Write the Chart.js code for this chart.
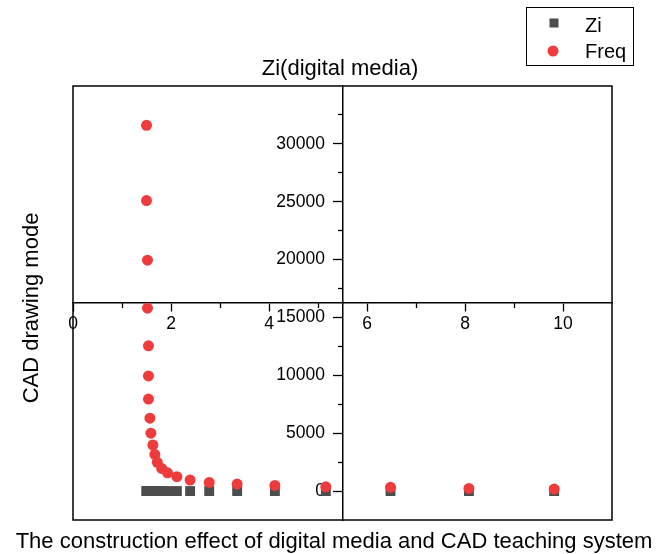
<!DOCTYPE html>
<html>
<head>
<meta charset="utf-8">
<script src="https://cdn.jsdelivr.net/npm/chart.js@4"></script>
<style>
  body { margin: 0; background: #fff; }
  #wrap { width: 666px; height: 554px; }
</style>
</head>
<body>
<div id="wrap"><canvas id="ziChart"></canvas></div>
<script>
// 数据
const xValues = [1.50, 1.50, 1.52, 1.52, 1.54, 1.54, 1.54, 1.57, 1.59, 1.63, 1.67, 1.72, 1.81, 1.93, 2.12, 2.39, 2.78, 3.35, 4.12, 5.16, 6.48, 8.08, 9.82];
const freqValues = [31600, 25100, 19950, 15800, 12550, 9950, 7950, 6300, 5000, 3980, 3170, 2480, 1960, 1580, 1240, 950, 750, 600, 490, 370, 320, 230, 170];
const ziValues = [0, 0, 0, 0, 0, 0, 0, 0, 0, 0, 0, 0, 0, 0, 0, 0, 0, 0, 0, 0, 0, 0, 0];

// 刻度
const xTicks = [0, 2, 4, 6, 8, 10];
const xMinorTicks = [1, 3, 5, 7, 9];
const yTicks = [0, 5000, 10000, 15000, 20000, 25000, 30000];
const yMinorTicks = [2500, 7500, 12500, 17500, 22500, 27500, 32500];

const FONT = "'Liberation Sans', Arial, sans-serif";
const ziColor = '#4d4d4d';
const freqColor = '#ee3b3b';

function toPoints(xs, ys) {
    return xs.map((x, i) => ({ x: x, y: ys[i] }));
}

function setTicks(list) {
    return axis => { axis.ticks = list.map(v => ({ value: v })); };
}

// 外框、标题和图例
const decorPlugin = {
    id: 'decor',
    beforeDatasetsDraw(chart) {
        const { ctx, chartArea: a } = chart;
        ctx.save();
        ctx.strokeStyle = '#000';
        ctx.lineWidth = 1.5;
        ctx.strokeRect(a.left, a.top, a.right - a.left, a.bottom - a.top);
        ctx.restore();
    },
    afterDraw(chart) {
        const ctx = chart.ctx;
        ctx.save();
        ctx.fillStyle = '#000';
        ctx.font = '22px ' + FONT;
        ctx.textAlign = 'center';
        ctx.textBaseline = 'alphabetic';
        ctx.fillText('Zi(digital media)', 340, 75);
        ctx.fillText('The construction effect of digital media and CAD teaching system', 334, 548);
        ctx.save();
        ctx.translate(37.5, 308);
        ctx.rotate(-Math.PI / 2);
        ctx.fillText('CAD drawing mode', 0, 0);
        ctx.restore();

        // 图例
        ctx.strokeStyle = '#000';
        ctx.lineWidth = 1;
        ctx.strokeRect(526.5, 7.5, 107, 58);
        const ds = chart.data.datasets;
        ctx.fillStyle = ds[0].backgroundColor;
        ctx.fillRect(549.5, 18.5, 9, 9);
        ctx.fillStyle = ds[1].backgroundColor;
        ctx.beginPath();
        ctx.arc(553, 51, 5.5, 0, Math.PI * 2);
        ctx.fill();
        ctx.fillStyle = '#000';
        ctx.font = '20px ' + FONT;
        ctx.textAlign = 'left';
        ctx.fillText(ds[0].label, 585, 32);
        ctx.fillText(ds[1].label, 585, 58);
        ctx.restore();
    }
};

const tickFont = { family: FONT, size: 17.5 };

const ctx = document.getElementById('ziChart').getContext('2d');
const ziChart = new Chart(ctx, {
    type: 'scatter',
    data: {
        datasets: [{
            label: 'Zi',
            data: toPoints(xValues, ziValues),
            pointStyle: 'rect',
            pointRadius: 7,
            pointHoverRadius: 7,
            backgroundColor: ziColor,
            borderColor: ziColor,
            borderWidth: 0,
            order: 2
        }, {
            label: 'Freq',
            data: toPoints(xValues, freqValues),
            pointStyle: 'circle',
            pointRadius: 5.5,
            pointHoverRadius: 5.5,
            backgroundColor: freqColor,
            borderColor: freqColor,
            borderWidth: 0,
            order: 1
        }]
    },
    options: {
        responsive: true,
        maintainAspectRatio: false,
        animation: false,
        layout: { padding: { left: 73, top: 86, right: 54, bottom: 34 } },
        plugins: {
            legend: { display: false },
            tooltip: { enabled: false }
        },
        scales: {
            x: {
                type: 'linear',
                min: 0,
                max: 11,
                position: { y: 16250 },
                afterBuildTicks: setTicks(xTicks),
                grid: { drawOnChartArea: false, drawTicks: true, tickLength: 8, tickColor: '#000', tickWidth: 1.3 },
                border: { display: true, color: '#000', width: 1.5 },
                ticks: { font: tickFont, color: '#000', padding: 3, maxRotation: 0, autoSkip: false }
            },
            xMinor: {
                type: 'linear',
                axis: 'x',
                min: 0,
                max: 11,
                position: { y: 16250 },
                afterBuildTicks: setTicks(xMinorTicks),
                grid: { drawOnChartArea: false, drawTicks: true, tickLength: 5, tickColor: '#000', tickWidth: 1.3 },
                border: { display: false },
                ticks: { callback: () => '', autoSkip: false }
            },
            y: {
                type: 'linear',
                min: -2500,
                max: 35000,
                position: { x: 5.5 },
                afterBuildTicks: setTicks(yTicks),
                grid: { drawOnChartArea: false, drawTicks: true, tickLength: 9, tickColor: '#000', tickWidth: 1.3 },
                border: { display: true, color: '#000', width: 1.5 },
                // 居中轴的标签紧贴轴线，用空格留出刻度线的位置
                ticks: { font: tickFont, color: '#000', autoSkip: false, callback: v => String(v) + '\u2002\u2002' }
            },
            yMinor: {
                type: 'linear',
                axis: 'y',
                min: -2500,
                max: 35000,
                position: { x: 5.5 },
                afterBuildTicks: setTicks(yMinorTicks),
                grid: { drawOnChartArea: false, drawTicks: true, tickLength: 5, tickColor: '#000', tickWidth: 1.3 },
                border: { display: false },
                ticks: { callback: () => '', autoSkip: false }
            }
        }
    },
    plugins: [decorPlugin]
});
</script>
</body>
</html>
